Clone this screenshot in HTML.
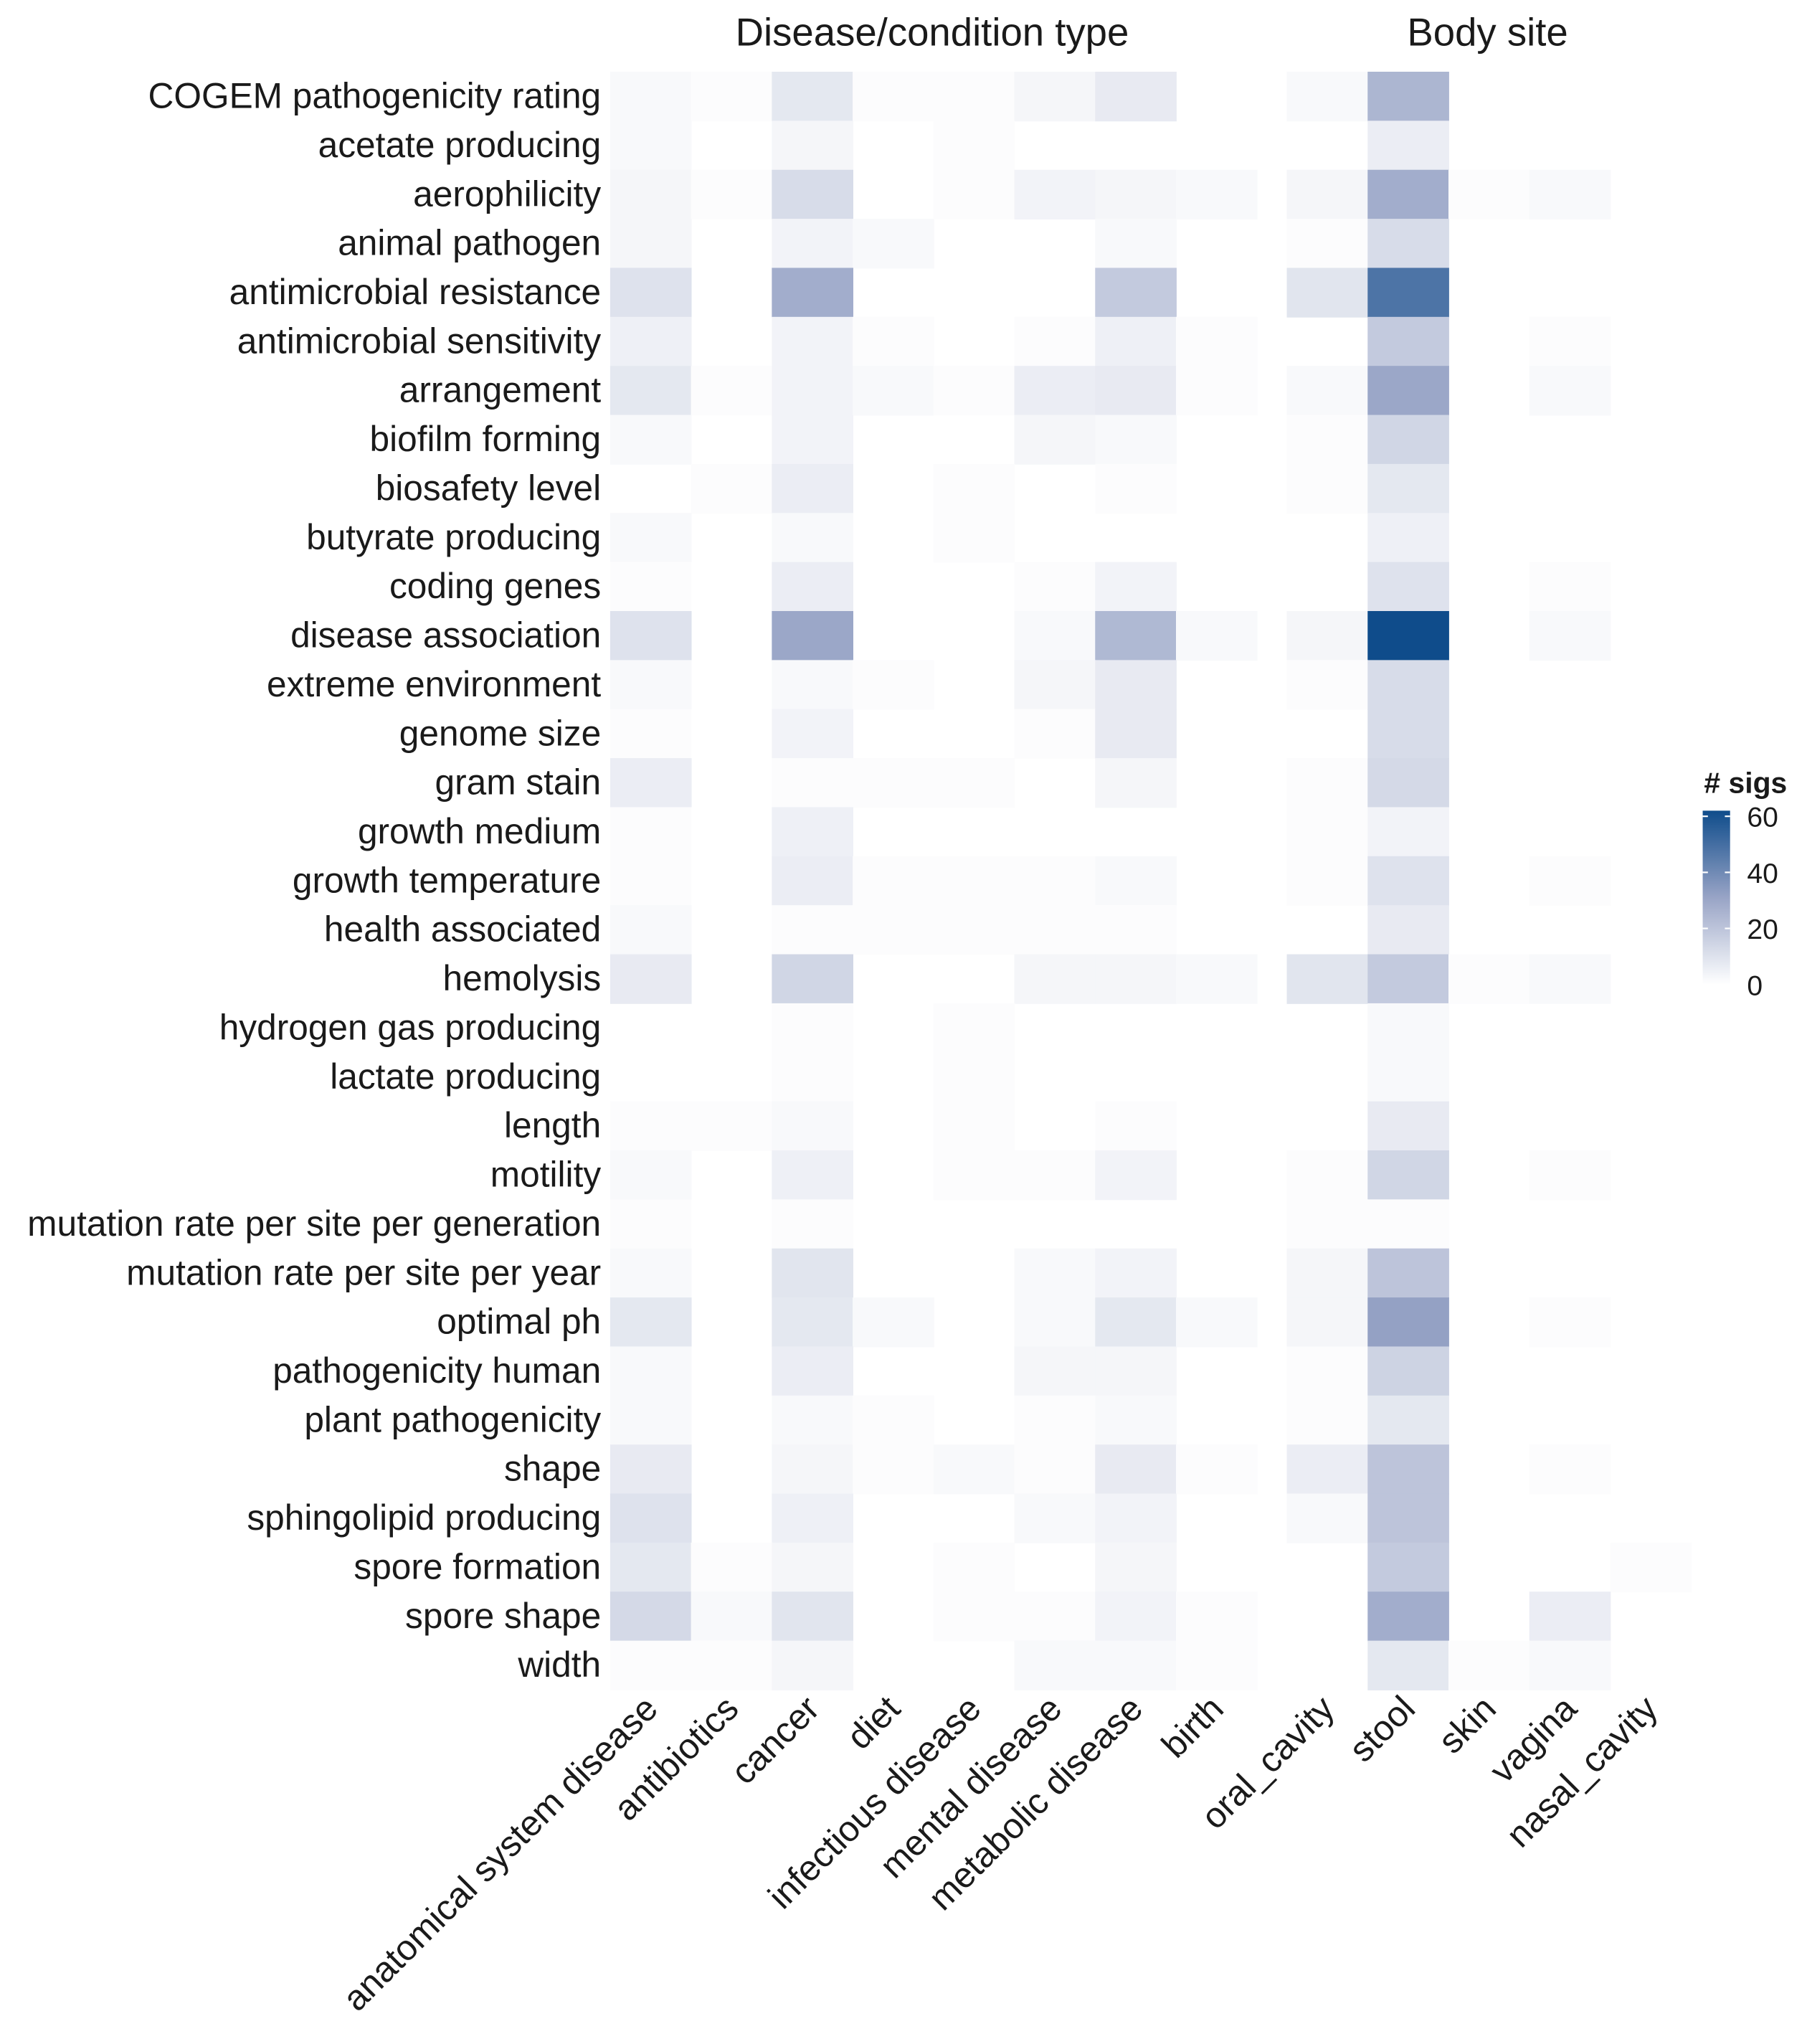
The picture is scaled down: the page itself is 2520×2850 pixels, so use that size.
<!DOCTYPE html>
<html><head><meta charset="utf-8"><style>
html,body{margin:0;padding:0;background:#fff}
svg{display:block}
text{font-family:"Liberation Sans",sans-serif;fill:#1a1a1a}
</style></head><body>
<svg id="chart" width="2520" height="2850" viewBox="0 0 1386 1567.5" xmlns="http://www.w3.org/2000/svg"></svg>
<script>
const rows=["COGEM pathogenicity rating","acetate producing","aerophilicity","animal pathogen","antimicrobial resistance","antimicrobial sensitivity","arrangement","biofilm forming","biosafety level","butyrate producing","coding genes","disease association","extreme environment","genome size","gram stain","growth medium","growth temperature","health associated","hemolysis","hydrogen gas producing","lactate producing","length","motility","mutation rate per site per generation","mutation rate per site per year","optimal ph","pathogenicity human","plant pathogenicity","shape","sphingolipid producing","spore formation","spore shape","width"];
const diseaseCols=["anatomical system disease","antibiotics","cancer","diet","infectious disease","mental disease","metabolic disease","birth"];
const bodyCols=["oral_cavity","stool","skin","vagina","nasal_cavity"];
const N=null;
const values=[
[2,1,8,1,1,3,7,N,2,25,N,N,N],
[2,N,3,N,1,N,N,N,N,6,N,N,N],
[3,1,12,N,1,4,3,2,3,28,1,2,N],
[3,N,4,2,N,N,2,N,1,12,N,N,N],
[10,N,28,N,N,N,18,N,9,48,N,N,N],
[5,N,4,1,N,1,5,1,N,18,N,1,N],
[8,1,4,2,1,6,7,1,2,30,N,2,N],
[2,N,4,N,N,3,2,N,1,14,N,N,N],
[N,1,6,N,1,N,1,N,1,8,N,N,N],
[2,N,2,N,1,N,N,N,N,5,N,N,N],
[1,N,6,N,N,1,4,N,N,10,N,1,N],
[10,N,30,N,N,2,24,2,3,62,N,2,N],
[2,N,2,1,N,3,7,N,1,12,N,N,N],
[1,N,4,N,N,1,7,N,N,12,N,N,N],
[6,N,1,1,1,N,3,N,1,13,N,N,N],
[1,N,5,N,N,N,N,N,1,4,N,N,N],
[1,N,6,1,1,1,2,N,1,10,N,1,N],
[2,N,1,1,1,1,1,N,N,7,N,N,N],
[7,N,14,N,N,3,3,2,9,18,1,2,N],
[N,N,1,N,1,N,N,N,N,2,N,N,N],
[N,N,1,N,1,N,N,N,N,2,N,N,N],
[1,1,2,N,1,N,1,N,N,7,N,N,N],
[2,N,5,N,1,1,4,N,1,14,N,1,N],
[1,N,1,N,N,N,N,N,1,1,N,N,N],
[2,N,9,N,N,2,4,N,3,20,N,N,N],
[8,N,8,2,N,2,8,2,3,32,N,1,N],
[2,N,6,N,N,3,3,N,1,15,N,N,N],
[2,N,2,1,N,1,2,N,1,8,N,N,N],
[7,N,3,1,2,1,7,1,6,20,N,1,N],
[10,N,5,N,N,2,4,N,2,20,N,N,N],
[8,1,3,N,1,N,3,N,N,18,N,N,1],
[13,2,9,N,1,1,4,1,N,28,N,6,N],
[1,1,3,N,N,2,2,1,N,8,1,2,N]];
const legendTicks=[0,20,40,60];

const svg=document.getElementById('chart');
const NS="http://www.w3.org/2000/svg";
function mk(t,a,p){const e=document.createElementNS(NS,t);for(const k in a)e.setAttribute(k,a[k]);(p||svg).appendChild(e);return e;}
const cw=62, rowTop=55, rh=37.6;
const x0d=468, x0b=987;
function colX(j){return j<diseaseCols.length? x0d+j*cw : x0b+(j-diseaseCols.length)*cw;}
function rowY(i){return rowTop+i*rh;}
const vmax=62;
function lerp(a,b,t){return Math.round(a+(b-a)*t);}
function color(v){const s=[[0,[255,255,255]],[31,[152,164,198]],[62,[15,76,139]]];
 v=Math.max(0,Math.min(vmax,v));let k=v<=31?0:1;const t=(v-s[k][0])/(s[k+1][0]-s[k][0]);
 const c=s[k][1].map((q,i)=>lerp(q,s[k+1][1][i],t));return `rgb(${c})`;}
const cols=diseaseCols.concat(bodyCols);
const g=mk('g',{});


values.forEach((r,i)=>r.forEach((v,j)=>{if(v===null)return;
 const c=mk('rect',{x:colX(j),y:rowY(i),width:cw+0.5,height:rh+0.5,fill:color(v)},g);
 
 }));
rows.forEach((r,i)=>{const t=mk('text',{x:461,y:rowY(i)+rh/2+9,'text-anchor':'end','font-size':27.3});t.textContent=r;
 
 });
cols.forEach((c,j)=>{const cx=colX(j)+cw/2+7,cy=1312;
 const t=mk('text',{x:cx,y:cy,'text-anchor':'end','font-size':27.3,transform:`rotate(-45 ${cx} ${cy})`});t.textContent=c;
 
 });
let h=mk('text',{x:715,y:35,'text-anchor':'middle','font-size':30});h.textContent="Disease/condition type";


h=mk('text',{x:1141,y:35,'text-anchor':'middle','font-size':30});h.textContent="Body site";


const lg=mk('g',{});


const lt=mk('text',{x:1307,y:608,'font-size':22.5,'font-weight':'bold'},lg);lt.textContent="# sigs";
const defs=mk('defs',{});const gr=mk('linearGradient',{id:'lgr',x1:0,y1:1,x2:0,y2:0},defs);
for(let k=0;k<=10;k++){mk('stop',{offset:k/10,'stop-color':color(vmax*k/10)},gr);}
const ly=v=>755-(v/60)*129;
mk('rect',{x:1306,y:ly(vmax),width:21,height:ly(0)-ly(vmax),fill:'url(#lgr)'},lg);
legendTicks.forEach(v=>{const y=ly(v);
 mk('line',{x1:1306,x2:1310,y1:y,y2:y,stroke:'#fff','stroke-width':1.2},lg);
 mk('line',{x1:1323,x2:1327,y1:y,y2:y,stroke:'#fff','stroke-width':1.2},lg);
 const t=mk('text',{x:1340,y:y+8,'font-size':21.5},lg);t.textContent=v;
 
 });
</script>
</body></html>
